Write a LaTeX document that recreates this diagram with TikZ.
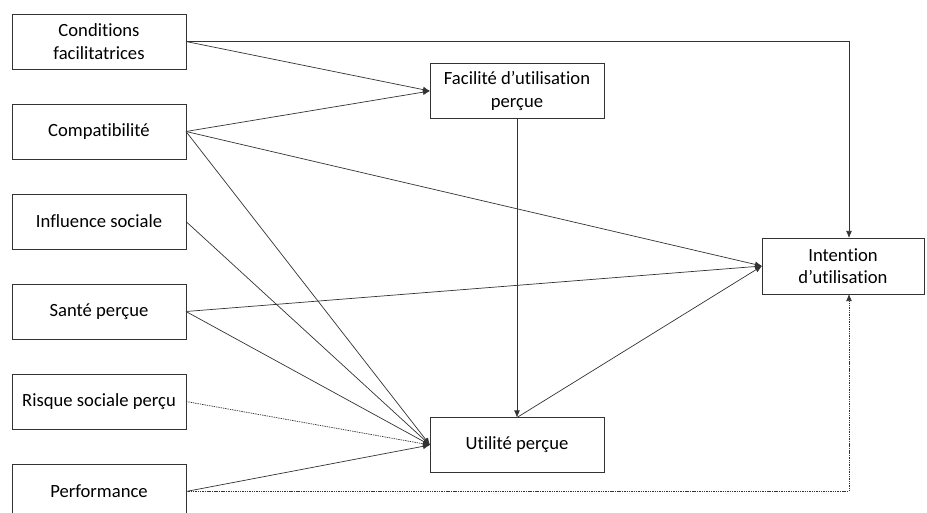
\documentclass[tikz,border=0pt]{standalone}
\usepackage{fontspec}
\setmainfont[Ligatures=NoCommon]{Carlito}
\usepackage{tikz}
\usetikzlibrary{arrows.meta}

\tikzset{
    factor/.style={draw=black!80, line width=0.7pt, minimum width=5.22cm,
        minimum height=1.65cm, inner sep=0pt, outer sep=0pt, align=center,
        font=\fontsize{15.9}{19.2}\selectfont},
    link/.style={draw=black!80, line width=0.6pt, -{Latex[length=6pt,width=5pt]}},
    weak/.style={link, dash pattern=on 1.2pt off 0.8pt}
}

\begin{document}
\begin{tikzpicture}[x=0.03cm, y=-0.03cm]
        \useasboundingbox (0,0) rectangle (927,513);

        % Predictors on the left
        \node[factor] (cond) at (99,41.5) {Conditions\\facilitatrices};
        \node[factor] (comp) at (99,131.5) {Compatibilité};
        \node[factor] (infl) at (99,221.5) {Influence sociale};
        \node[factor] (sante) at (99,311.5) {Santé perçue};
        \node[factor] (risque) at (99,401.5) {Risque sociale perçu};
        \node[factor] (perf) at (99,491.5) {Performance};

        % Mediators and outcome
        \node[factor] (facil) at (517,91) {Facilité d’utilisation\\perçue};
        \node[factor] (util) at (517,445) {Utilité perçue};
        \node[factor, minimum width=4.86cm, minimum height=1.68cm] (intent) at (843,266) {Intention\\d’utilisation};

        % Corner points for the elbow lines
        \coordinate (topbend) at (849,41.5);
        \coordinate (botbend) at (849,491.5);

        % lines towards perceived ease of use
        \draw[link] (cond.east) -- (facil.west);
        \draw[link] (comp.east) -- (facil.west);

        % lines towards perceived usefulness
        \draw[link] (comp.east) -- (util.west);
        \draw[link] (infl.east) -- (util.west);
        \draw[link] (sante.east) -- (util.west);
        \draw[weak] (risque.east) -- (util.west);
        \draw[link] (perf.east) -- (util.west);
        \draw[link] (facil.south) -- (util.north);

        % lines towards intention
        \draw[link] (cond.east) -- (topbend) -- (intent.north -| topbend);
        \draw[link] (comp.east) -- (intent.west);
        \draw[link] (sante.east) -- (intent.west);
        \draw[link] (util.north) -- (intent.west);
        \draw[weak] (perf.east) -- (botbend) -- (intent.south -| botbend);
    \end{tikzpicture}
\end{document}
